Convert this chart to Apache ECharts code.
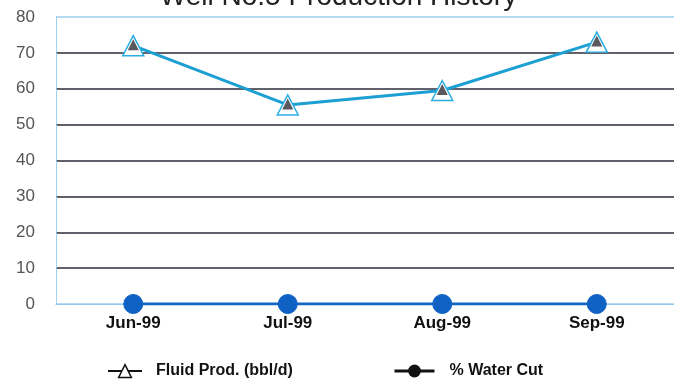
<!DOCTYPE html>
<html>
<head>
<meta charset="utf-8">
<script src="https://cdn.jsdelivr.net/npm/echarts@6/dist/echarts.min.js"></script>
<style>
  html, body { margin: 0; padding: 0; background: #fff; }
  #chart { width: 677px; height: 381px; }
</style>
</head>
<body>
<div id="chart"></div>
<script>
// Monthly well data
const months = ['Jun-99', 'Jul-99', 'Aug-99', 'Sep-99'];
const fluidProd = [72, 55.5, 59.5, 73];   // bbl/d
const waterCut = [0, 0, 0, 0];            // %
const yTicks = [0, 10, 20, 30, 40, 50, 60, 70, 80];

const chart = echarts.init(document.getElementById('chart'));

// grid line colours: light border at 0 and 80, dark lines between
const splitColors = yTicks.map((v, i) => (i === 0 || i === yTicks.length - 1) ? '#9fd0ec' : '#2c2c3a');

const font = 'Liberation Sans, Arial, sans-serif';

chart.setOption({
  backgroundColor: '#ffffff',
  animation: false,
  title: {
    text: 'Well No.5 Production History',
    left: 'center',
    top: -22,
    textStyle: { fontFamily: font, fontSize: 28, fontWeight: 'normal', color: '#222' }
  },
  grid: { left: 56, right: 3, top: 17, bottom: 77 },
  legend: [
    {
      left: 102, top: 358, itemWidth: 34, itemHeight: 16,
      textStyle: { fontFamily: font, fontSize: 16, fontWeight: 'bold', color: '#111', padding: [0, 0, 0, 9] },
      data: [{
        name: 'Fluid Prod. (bbl/d)',
        itemStyle: { color: '#fff', borderColor: '#111', borderWidth: 1.5 },
        lineStyle: { color: '#111', width: 2 }
      }]
    },
    {
      left: 388, top: 358, itemWidth: 40, itemHeight: 16,
      textStyle: { fontFamily: font, fontSize: 16, fontWeight: 'bold', color: '#111', padding: [0, 0, 0, 10] },
      data: [{
        name: '% Water Cut',
        itemStyle: { color: '#111', borderColor: '#111' },
        lineStyle: { color: '#111', width: 3 }
      }]
    }
  ],
  xAxis: {
    type: 'category',
    data: months,
    boundaryGap: true,
    axisLine: { show: true, lineStyle: { color: '#8cc8ea', type: 'dotted', width: 1 } },
    axisTick: { show: false },
    axisLabel: { margin: 11, fontFamily: font, fontSize: 17, fontWeight: 'bold', color: '#111' }
  },
  yAxis: {
    type: 'value',
    min: yTicks[0],
    max: yTicks[yTicks.length - 1],
    interval: 10,
    axisLine: { show: true, lineStyle: { color: '#8cc8ea', type: 'dotted', width: 1 } },
    axisTick: { show: false },
    axisLabel: { margin: 21, fontFamily: font, fontSize: 17, color: '#555' },
    splitLine: { show: true, lineStyle: { color: splitColors, width: 1.5 } }
  },
  series: [
    {
      name: 'Fluid Prod. (bbl/d)',
      type: 'line',
      data: fluidProd,
      symbol: 'triangle',
      symbolSize: [21, 20],
      showAllSymbol: true,
      lineStyle: { color: '#1c9fd2', width: 3 },
      itemStyle: { color: '#ffffff', borderColor: '#2aaee2', borderWidth: 1.5 },
      z: 3
    },
    {
      // dark inner marks of the fluid triangles
      name: 'fluid-inner',
      type: 'scatter',
      data: fluidProd,
      symbol: 'triangle',
      symbolSize: [11, 11],
      symbolOffset: [0, -1],
      itemStyle: { color: '#2e2e36' },
      silent: true,
      z: 4
    },
    {
      name: '% Water Cut',
      type: 'line',
      data: waterCut,
      symbol: 'circle',
      symbolSize: 19,
      showAllSymbol: true,
      lineStyle: { color: '#1466c4', width: 3 },
      itemStyle: { color: '#0f62c4', borderColor: '#0f62c4' },
      z: 5
    }
  ]
});
</script>
</body>
</html>
